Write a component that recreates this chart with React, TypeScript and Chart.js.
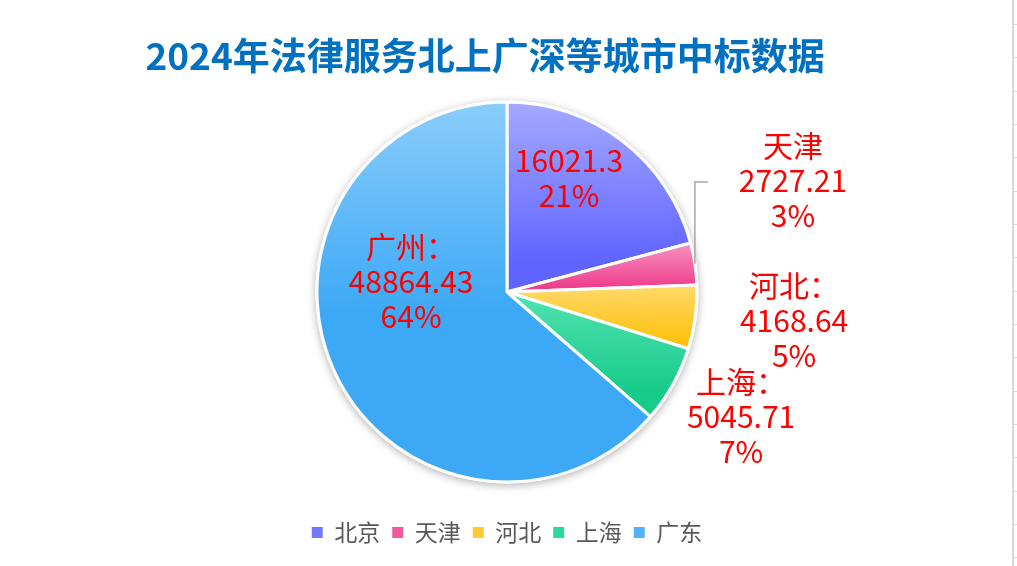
import React, { useEffect, useRef } from "react";
import { Chart, registerables } from "chart.js";
Chart.register(...registerables);

const titleText = "2024年法律服务北上广深等城市中标数据";
const legendLabels = ["北京", "天津", "河北", "上海", "广东"];
const values = [16021.3, 2727.21, 4168.64, 5045.71, 48864.43];
const valueLabels = ["16021.3", "2727.21", "4168.64", "5045.71", "48864.43"];
const labelNames = ["", "天津", "河北：", "上海：", "广州："];
const percentLabels = ["21%", "3%", "5%", "7%", "64%"];

const lightColors = ["#A4A9FF", "#F992C2", "#FFDA6B", "#52E2B2", "#8ACDFA"];
const darkColors = ["#5F63FF", "#EE3F8C", "#FFC10A", "#17CB89", "#3DA9F6"];
const darkStops = [0.85, 0.9, 0.9, 0.8, 0.55];
const legendColors = ["#7478FF", "#F25A9E", "#FFCB33", "#2ED79A", "#52B4F8"];
// label block centre, in units of the pie radius, relative to the pie centre
const labelOffsets = [
  [0.326, -0.597],
  [1.505, -0.584],
  [1.511, 0.153],
  [1.232, 0.658],
  [-0.505, -0.053],
];
const FONT = "'Noto Sans CJK SC', 'Noto Sans', sans-serif";
const RADIUS = 190;

export default function App() {
  const ref = useRef<HTMLCanvasElement | null>(null);
  useEffect(() => {
    if (!ref.current) return;
    const total = values.reduce((a, b) => a + b, 0);

    const shadowPlugin = {
      id: "shadowPlugin",
      beforeDatasetsDraw(chart: any) {
        const meta = chart.getDatasetMeta(0);
        const arc = meta.data[0];
        if (!arc) return;
        const ctx = chart.ctx;
        ctx.save();
        ctx.shadowColor = "rgba(0,0,0,0.3)";
        ctx.shadowBlur = 9;
        ctx.shadowOffsetY = 2;
        ctx.beginPath();
        ctx.arc(arc.x, arc.y, arc.outerRadius + 1.5, 0, Math.PI * 2);
        ctx.fillStyle = "#ffffff";
        ctx.fill();
        ctx.restore();
      },
    };

    const labelPlugin = {
      id: "labelPlugin",
      afterDatasetsDraw(chart: any) {
        const meta = chart.getDatasetMeta(0);
        const ctx = chart.ctx;
        ctx.save();
        ctx.font = `30px ${FONT}`;
        ctx.fillStyle = "#FF0000";
        ctx.textAlign = "center";
        ctx.textBaseline = "middle";
        const lh = 35;
        meta.data.forEach((arc: any, i: number) => {
          const R = arc.outerRadius;
          const bx = arc.x + labelOffsets[i][0] * R;
          const by = arc.y + labelOffsets[i][1] * R;
          const lines = [labelNames[i], valueLabels[i], percentLabels[i]].filter((s) => s !== "");
          const startY = by - ((lines.length - 1) * lh) / 2;
          lines.forEach((t, k) => ctx.fillText(t, bx, startY + k * lh));
          if (i === 1) {
            const mid = (arc.startAngle + arc.endAngle) / 2;
            const ex = arc.x + Math.cos(mid) * R;
            const ey = arc.y + Math.sin(mid) * R;
            ctx.save();
            ctx.strokeStyle = "#A6A6A6";
            ctx.lineWidth = 1.5;
            ctx.beginPath();
            ctx.moveTo(ex, ey);
            ctx.lineTo(ex, by + 1);
            ctx.lineTo(ex + 13, by + 1);
            ctx.stroke();
            ctx.restore();
          }
        });
        ctx.restore();
      },
    };

    const titlePlugin = {
      id: "titlePlugin",
      afterDraw(chart: any) {
        const ctx = chart.ctx;
        ctx.save();
        ctx.font = `bold 37px ${FONT}`;
        ctx.fillStyle = "#0070C0";
        ctx.textAlign = "center";
        ctx.textBaseline = "middle";
        ctx.fillText(titleText, chart.width * 0.477, 56);
        ctx.restore();
      },
    };

    const chart = new Chart(ref.current, {
      type: "pie",
      data: {
        labels: legendLabels,
        datasets: [
          {
            data: values,
            radius: RADIUS,
            borderColor: "#ffffff",
            borderWidth: 3,
            hoverOffset: 0,
            offset: 0,
            backgroundColor: (c: any) => {
              const i = c.dataIndex;
              const chart = c.chart;
              const area = chart.chartArea;
              if (!area || i === undefined) return darkColors[i || 0];
              const cx = (area.left + area.right) / 2;
              const cy = (area.top + area.bottom) / 2;
              let before = 0;
              for (let k = 0; k < i; k++) before += values[k];
              const a0 = -Math.PI / 2 + (before / total) * Math.PI * 2;
              const a1 = a0 + (values[i] / total) * Math.PI * 2;
              const ys = [cy, cy + RADIUS * Math.sin(a0), cy + RADIUS * Math.sin(a1)];
              [-Math.PI / 2, Math.PI / 2, (3 * Math.PI) / 2].forEach((k) => {
                if (k >= a0 && k <= a1) ys.push(cy + RADIUS * Math.sin(k));
              });
              const y0 = Math.min(...ys);
              const y1 = Math.max(...ys);
              const g = chart.ctx.createLinearGradient(0, y0, 0, y1 + 0.01);
              g.addColorStop(0, lightColors[i]);
              g.addColorStop(darkStops[i], darkColors[i]);
              g.addColorStop(1, darkColors[i]);
              return g;
            },
          },
        ],
      },
      options: {
        responsive: false,
        animation: false,
        layout: { padding: { top: 75, bottom: 12, left: 0, right: 3 } },
        plugins: {
          title: { display: false },
          tooltip: { enabled: false },
          legend: {
            position: "bottom",
            labels: {
              font: { size: 23, family: FONT },
              color: "#595959",
              boxWidth: 11,
              boxHeight: 11,
              padding: 12,
              generateLabels: () =>
                legendLabels.map((t, i) => ({
                  text: t,
                  fillStyle: legendColors[i],
                  strokeStyle: legendColors[i],
                  lineWidth: 0,
                  hidden: false,
                  index: i,
                  fontColor: "#595959",
                })),
            },
          },
        },
      },
      plugins: [shadowPlugin, labelPlugin, titlePlugin],
    } as any);
    return () => chart.destroy();
  }, []);

  return (
    <div style={{ position: "absolute", left: 0, top: 0, width: 1017, height: 566, background: "#ffffff" }}>
      <canvas ref={ref} width={1017} height={566} style={{ display: "block" }} />
      <div
        style={{
          position: "absolute",
          left: 1012,
          top: 0,
          width: 5,
          height: 566,
          borderLeft: "2px solid #D9D9D9",
          boxSizing: "border-box",
          background:
            "repeating-linear-gradient(to bottom, transparent 0px, transparent 24px, #D9D9D9 24px, #D9D9D9 25px, transparent 25px, transparent 33.33px)",
        }}
      />
    </div>
  );
}
